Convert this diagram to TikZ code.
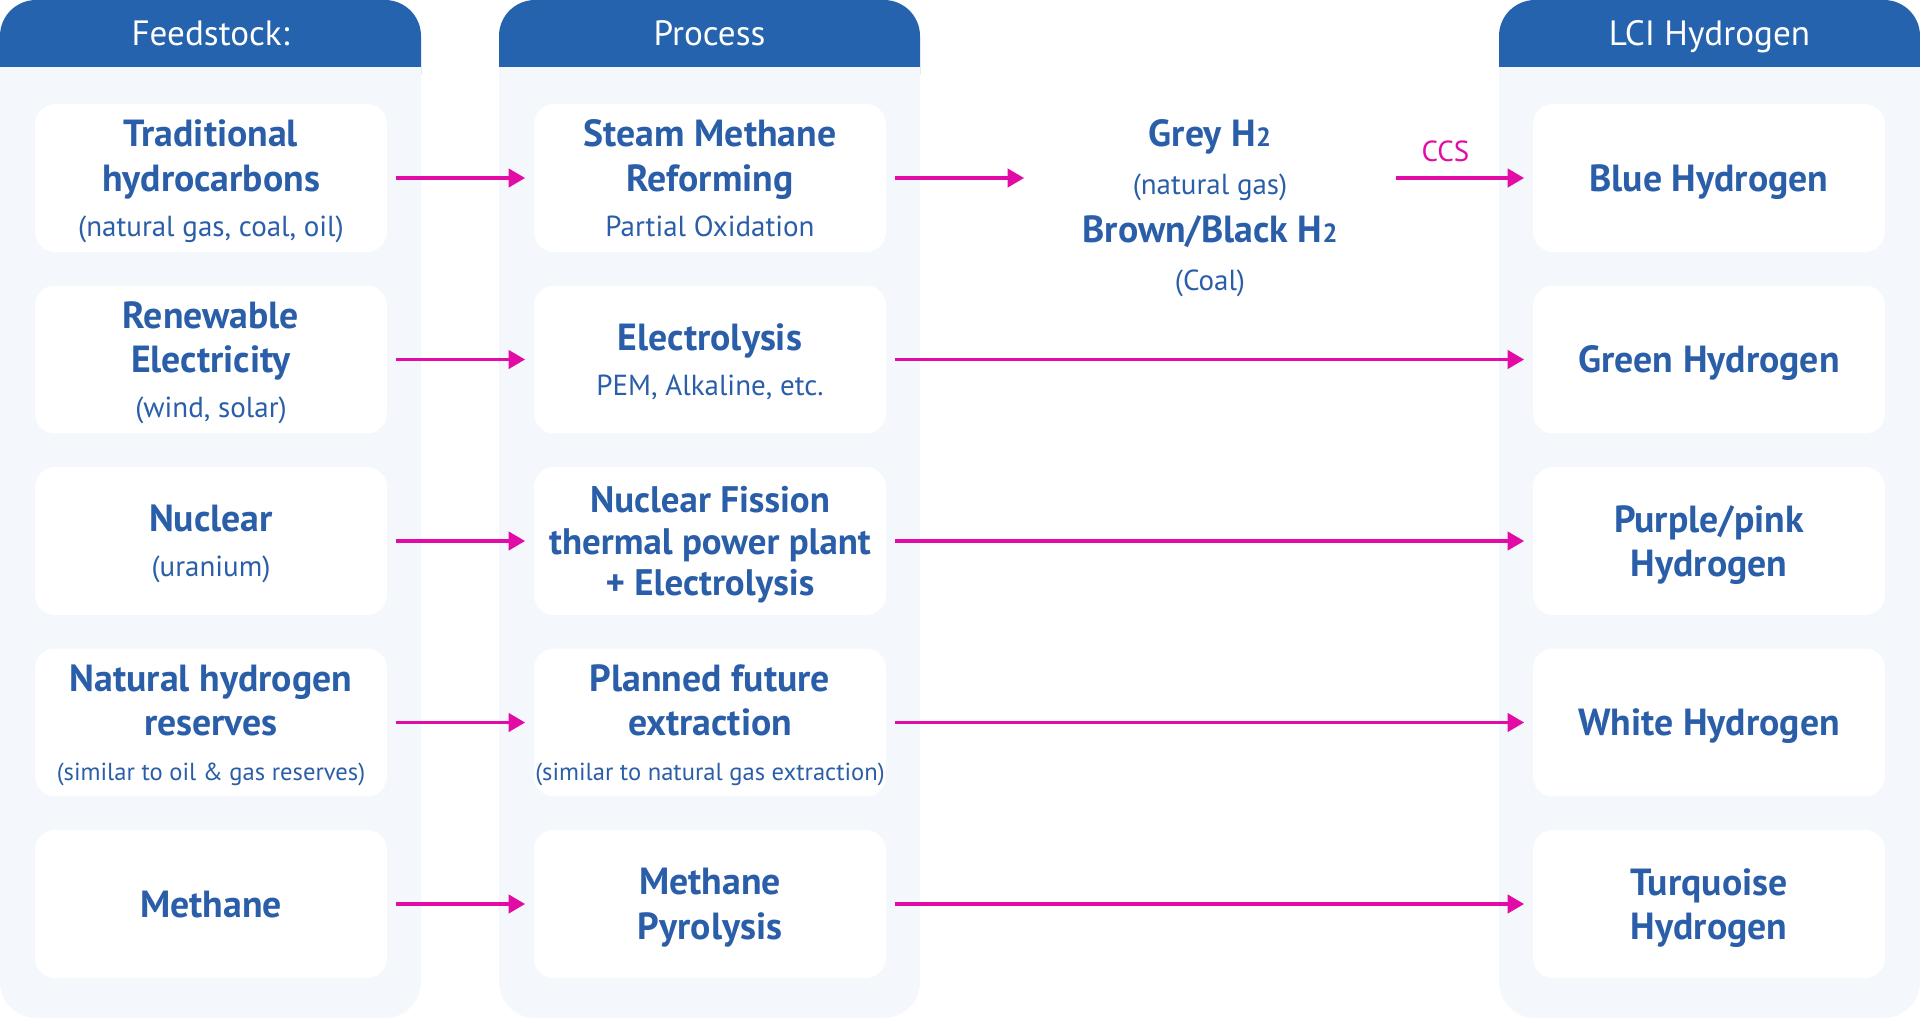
\documentclass[tikz,border=0pt]{standalone}
\usepackage{fontspec}
\setmainfont{PT Sans}
\usetikzlibrary{arrows.meta}

\definecolor{headblue}{HTML}{2563AE}
\definecolor{textblue}{HTML}{2A5EA8}
\definecolor{panelbg}{HTML}{F4F7FB}
\definecolor{flowpink}{HTML}{E30BA6}

\newcommand{\subline}[1]{{\mdseries\fontsize{16.5}{25}\selectfont #1}}
\newcommand{\smallline}[1]{{\mdseries\fontsize{14}{25}\selectfont #1}}
\newcommand{\htwo}{H{\fontsize{15}{15}\selectfont 2}}

\tikzset{
  header/.style={text=white,anchor=base,font=\fontsize{20}{23}\selectfont},
  box/.style={fill=white,rounded corners=0.4cm,minimum width=7.04cm,minimum height=2.96cm,
    inner sep=0pt,text depth=0pt,align=center,text=textblue,font=\bfseries\fontsize{21.5}{25.5}\selectfont},
  flow/.style={draw=flowpink,line width=2.2pt,shorten <=0.17cm,shorten >=0.17cm,
    -{Triangle[length=0.33cm,width=0.36cm]}},
}

\begin{document}
\begin{tikzpicture}[x=0.02cm,y=-0.02cm]
\useasboundingbox (0,0) rectangle (1920,1018);

% Draw the three columns with their headers
\foreach \xl/\title [count=\i] in {0/Feedstock:,499/Process,1499/LCI Hydrogen} {
    \pgfmathsetmacro{\xr}{\xl+421}
    \fill[panelbg,rounded corners=0.72cm] (\xl,0) rectangle (\xr,1018);
    \fill[headblue,rounded corners=0.72cm] (\xl,0) rectangle (\xr,110);
    \fill[panelbg] (\xl,67) rectangle (\xr,112);
    \node[header] (head\i) at ({\xl+210.5},45) {\title};
}

% Feedstock boxes
\node[box] (f1) at (211,178) {Traditional\\hydrocarbons\\\subline{(natural gas, coal, oil)}};
\node[box] (f2) at (211,359.5) {Renewable\\Electricity\\\subline{(wind, solar)}};
\node[box] (f3) at (211,541) {Nuclear\\\subline{(uranium)}};
\node[box] (f4) at (211,722.5) {Natural hydrogen\\reserves\\\smallline{(similar to oil \& gas reserves)}};
\node[box] (f5) at (211,904) {Methane};

% Process boxes
\node[box] (p1) at (710,178) {Steam Methane\\Reforming\\\subline{Partial Oxidation}};
\node[box] (p2) at (710,359.5) {Electrolysis\\\subline{PEM, Alkaline, etc.}};
\node[box,font=\bfseries\fontsize{21}{23.5}\selectfont] (p3) at (710,541) {Nuclear Fission\\thermal power plant\\+ Electrolysis};
\node[box] (p4) at (710,722.5) {Planned future\\extraction\\\smallline{(similar to natural gas extraction)}};
\node[box] (p5) at (710,904) {Methane\\Pyrolysis};

% LCI hydrogen boxes
\node[box] (h1) at (1709,178) {Blue Hydrogen};
\node[box] (h2) at (1709,359.5) {Green Hydrogen};
\node[box] (h3) at (1709,541) {Purple/pink\\Hydrogen};
\node[box] (h4) at (1709,722.5) {White Hydrogen};
\node[box] (h5) at (1709,904) {Turquoise\\Hydrogen};

% Grey and brown/black hydrogen in the middle
\node[minimum width=7.08cm,inner sep=0pt,text depth=0pt,align=center,text=textblue,
      font=\bfseries\fontsize{21.5}{27.5}\selectfont] (grey) at (1210,205)
  {Grey \htwo\\\subline{(natural gas)}\\Brown/Black \htwo\\\subline{(Coal)}};

% Arrows
\foreach \i in {1,...,5}
    \draw[flow] (f\i) -- (p\i);
\foreach \i in {2,...,5}
    \draw[flow] (p\i) -- (h\i);
\draw[flow] (p1.east) -- (p1.east -| grey.west);
\draw[flow] (grey.east |- h1.west) -- (h1.west)
    node[above=5pt,pos=0.4,text=flowpink,font=\fontsize{16.5}{19}\selectfont] (ccs) {CCS};
\end{tikzpicture}
\end{document}
